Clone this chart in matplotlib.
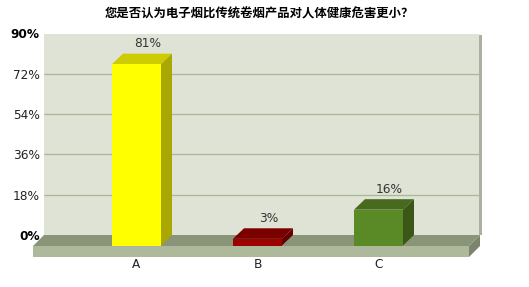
import matplotlib
matplotlib.use('Agg')
import matplotlib.pyplot as plt
from matplotlib.patches import Polygon, Rectangle

plt.rcParams['font.family'] = ['DejaVu Sans']

# Survey data
title = '您是否认为电子烟比传统卷烟产品对人体健康危害更小？'
categories = ['A', 'B', 'C']
values = [81, 3, 16]
y_ticks = [0, 18, 36, 54, 72, 90]

# face colours: front, top, side
bar_colors = [('#ffff00', '#cccc00', '#a8a800'),
              ('#9c0000', '#7a0000', '#660000'),
              ('#5a8a26', '#466b1d', '#3a5718')]

W, H, DPI = 529, 287, 100
fig = plt.figure(figsize=(W / DPI, H / DPI), dpi=DPI)

# back wall in pixels
left_px, right_px, top_px, bottom_px = 44, 479, 33.5, 235
ax = fig.add_axes([left_px / W, 1 - bottom_px / H,
                   (right_px - left_px) / W, (bottom_px - top_px) / H])
ax.set_facecolor('#dee3d6')
for s in ax.spines.values():
    s.set_visible(False)

step_px = 121
x0 = -103.5 / step_px
x1 = x0 + (right_px - left_px) / step_px
ax.set_xlim(x0, x1)
ax.set_ylim(0, 90)

# pixel -> data conversions
px_x = 1 / step_px
px_y = 90 / (bottom_px - top_px)
DX, DY = 11 * px_x, 10.5 * px_y
bw = 49 * px_x

ax.hlines(y_ticks[1:-1], x0, x1, colors='#a8b795', linewidth=0.9, zorder=1)

# shadow strip on the right of the wall
ax.add_patch(Rectangle((x1, 0), 3 * px_x, 90 - 1.5 * px_y, facecolor='#a9b19f',
                       edgecolor='none', clip_on=False, zorder=1))

# floor slab
fx1 = x1 + 1 * px_x
ft = 11 * px_y
ax.add_patch(Polygon([(x0, 0), (fx1, 0), (fx1 - DX, -ft), (x0 - DX, -ft)],
                     closed=True, facecolor='#8a9479', edgecolor='none',
                     clip_on=False, zorder=2))
ax.add_patch(Rectangle((x0 - DX, -ft - 11 * px_y), fx1 - x0, 11 * px_y,
                       facecolor='#adb99a', edgecolor='none', clip_on=False, zorder=2))
ax.add_patch(Polygon([(fx1 - DX, -ft), (fx1, 0), (fx1, -11 * px_y), (fx1 - DX, -ft - 11 * px_y)],
                     closed=True, facecolor='#7b856c', edgecolor='none',
                     clip_on=False, zorder=2))

# 3D bars
for i, (v, (cf, ct, cs)) in enumerate(zip(values, bar_colors)):
    xl, xr = i - bw / 2, i + bw / 2
    ax.add_patch(Polygon([(xl - DX, v - DY), (xr - DX, v - DY), (xr, v), (xl, v)],
                         closed=True, facecolor=ct, edgecolor='none',
                         clip_on=False, zorder=3))
    ax.add_patch(Polygon([(xr - DX, -DY), (xr, 0), (xr, v), (xr - DX, v - DY)],
                         closed=True, facecolor=cs, edgecolor='none',
                         clip_on=False, zorder=3))
    ax.add_patch(Rectangle((xl - DX, -DY), bw, v, facecolor=cf, edgecolor='none',
                           clip_on=False, zorder=4))
    ax.text(i, v + 3.5 * px_y, f'{v}%', ha='center', va='bottom',
            fontsize=8.7, color='#333333', zorder=5)
    ax.text(i - DX, -30 * px_y, categories[i], ha='center', va='center',
            fontsize=8.7, color='#222222')

ax.set_xticks([])
ax.set_yticks(y_ticks)
ax.set_yticklabels([f'{t}%' for t in y_ticks])
ax.tick_params(axis='y', length=0, pad=3, labelsize=8.7, labelcolor='#222222')
for lab, t in zip(ax.get_yticklabels(), y_ticks):
    if t in (0, 90):
        lab.set_fontweight('bold')
        lab.set_color('black')

fig.text(259 / W, 1 - 14 / H, title, ha='center', va='center', fontsize=8.9,
         fontweight='bold', family=['Noto Sans CJK SC', 'DejaVu Sans'])

fig.savefig('out.png', dpi=DPI, facecolor='white')
